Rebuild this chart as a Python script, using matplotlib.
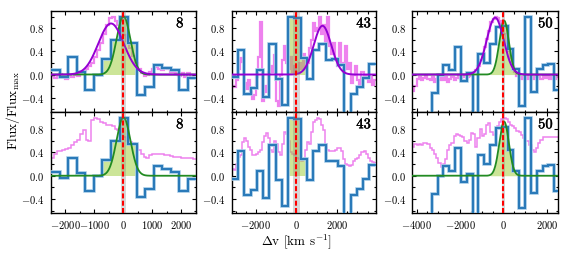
import numpy as np
import matplotlib
matplotlib.use("Agg")
import matplotlib.pyplot as plt
import matplotlib.patheffects as pe
from matplotlib.ticker import MultipleLocator

plt.rcParams.update({
    "font.family": "serif",
    "font.serif": ["cmr10"],
    "mathtext.fontset": "cm",
    "axes.formatter.use_mathtext": True,
    "xtick.direction": "in",
    "ytick.direction": "in",
    "xtick.top": True,
    "ytick.right": True,
    "xtick.labelsize": 7.6,
    "ytick.labelsize": 7.6,
    "axes.linewidth": 1.0,
})

# --- data -----------------------------------------------------------------
panel_ids = ["8", "43", "50"]
xlims = [(-2500, 2500), (-3190, 3900), (-4200, 2500)]
xmajor = [1000, 2000, 2000]
band_half = [80, 160, 70]

# binned spectra (blue): first edge, bin width, values
blue_start = [-2485, -3183, -4376]
blue_width = [295, 308, 268.8]
blue_8 = [0.07, -0.04, 0.30, 0.05, -0.27, 0.0, 0.27, 0.60, 1.0, 0.55,
          -0.36, -0.22, 0.16, 0.11, 0.07, -0.26, -0.06]
blue_43 = [-0.05, 0.43, -0.33, -0.24, 0.08, -0.38, 0.52, -0.07, -0.52, 1.0,
           0.98, 0.29, -0.08, 0.43, 0.52, 0.25, 0.26, 0.16, -0.9, -0.33,
           -0.22, -0.06, 0.19]
blue_50 = [-0.9, -0.9, -0.9, -0.9, -0.31, 0.0, 0.17, 0.08, 0.47, -0.11,
           0.03, -0.9, 0.36, 0.20, 0.53, 0.82, 0.83, 0.44, 0.09, -0.55,
           1.0, -0.30, 0.09, 0.17, 0.18, -0.26]
# bins shaded green (index range)
fill_bins = [(6, 10), (9, 12), None]

# high-res spectra (violet), 100 km/s pixels
mag_start = [-2500, -3200, -4200]
mag_step = 100
mag_top_8 = [-0.02, -0.06, -0.03, 0.01, -0.05, -0.08, -0.02, -0.05, 0.0, -0.03,
             0.03, 0.06, 0.10, 0.14, 0.20, 0.30, 0.42, 0.55, 0.70, 0.85,
             0.97, 0.99, 0.92, 0.85, 0.75, 0.68, 0.58, 0.45, 0.32, 0.20,
             0.10, 0.03, -0.02, 0.00, 0.04, 0.10, 0.13, 0.10, 0.08, 0.12,
             0.09, 0.05, 0.07, 0.02, -0.03, 0.02, -0.05, 0.03, -0.06, 0.00]
mag_bot_8 = [0.30, 0.38, 0.42, 0.42, 0.45, 0.46, 0.48, 0.52, 0.58, 0.62,
             0.72, 0.78, 0.62, 0.60, 0.96, 1.00, 0.98, 0.92, 0.90, 0.88,
             0.88, 0.85, 0.80, 0.78, 0.72, 0.66, 0.60, 0.58, 0.56, 0.52,
             0.45, 0.38, 0.32, 0.30, 0.36, 0.37, 0.38, 0.37, 0.37, 0.36,
             0.35, 0.34, 0.33, 0.33, 0.32, 0.31, 0.31, 0.30, 0.30, 0.29]
mag_top_43 = [-0.20, -0.22, -0.10, 0.10, 0.28, 0.22, -0.15, -0.25, -0.10, -0.30,
              -0.42, -0.35, -0.05, 0.30, 0.90, -0.45, -0.20, -0.30, 0.05, 0.15,
              0.05, 0.34, -0.45, -0.55, 0.00, 0.25, 0.50, 0.20, 0.10, 0.30,
              0.05, 0.15, 0.05, 0.20, 0.10, 0.35, 0.10, 0.20, 0.45, 0.60,
              0.88, 0.75, 0.80, 1.00, 0.70, 0.85, 0.55, 1.00, 0.50, 0.35,
              0.55, 0.25, 0.15, 0.55, 0.20, 0.05, 0.50, 0.10, 0.20, -0.15,
              0.00, 0.15, -0.10, -0.20, 0.05, -0.05, 0.00, -0.12, -0.05, -0.18,
              -0.10]
mag_bot_43 = [0.12, 0.10, 0.20, 0.33, 0.36, 0.58, 0.64, 0.60, 0.50, 0.45,
              0.36, 0.35, 0.38, 0.40, 0.45, 0.58, 0.68, 0.73, 0.65, 0.44,
              0.40, 0.60, 0.55, 0.40, 0.35, 0.55, 0.75, 0.72, 0.60, 0.40,
              0.38, 0.35, 0.30, 0.28, 0.26, 0.28, 0.45, 0.58, 0.55, 0.75,
              0.92, 0.96, 1.00, 0.98, 0.88, 0.78, 0.55, 0.45, 0.42, 0.43,
              0.42, 0.45, 0.48, 0.47, 0.42, 0.28, 0.20, 0.18, 0.16, 0.18,
              0.25, 0.28, 0.30, 0.35, 0.40, 0.42, 0.38, 0.30, 0.25, 0.23,
              0.22]
mag_top_50 = [-0.28, -0.20, -0.08, -0.05, -0.10, -0.06, -0.03, -0.08, -0.10, -0.05,
              -0.12, -0.08, -0.10, -0.06, -0.10, -0.05, -0.12, -0.07, -0.04, -0.10,
              -0.06, -0.02, -0.08, -0.04, 0.00, -0.05, -0.02, 0.02, 0.05, 0.08,
              0.14, 0.25, 0.33, 0.48, 0.62, 0.75, 0.90, 0.96, 1.00, 0.98,
              0.92, 0.82, 0.70, 0.55, 0.40, 0.28, 0.15, 0.05, -0.02, -0.04,
              -0.08, -0.05, -0.02, -0.07, -0.03, -0.08, -0.04, 0.00, -0.05, -0.08,
              -0.03, -0.06, -0.02, -0.07, -0.04, -0.08, -0.05]
mag_bot_50 = [0.50, 0.55, 0.52, 0.55, 0.53, 0.56, 0.57, 0.55, 0.47, 0.44,
              0.38, 0.30, 0.22, 0.15, 0.20, 0.28, 0.45, 0.53, 0.56, 0.68,
              0.72, 0.70, 0.68, 0.66, 0.60, 0.57, 0.62, 0.74, 0.72, 0.50,
              0.65, 0.80, 0.68, 0.72, 0.88, 0.90, 0.75, 0.70, 0.72, 0.86,
              0.92, 0.98, 1.00, 0.98, 0.92, 0.88, 0.86, 0.82, 0.77, 0.75,
              0.70, 0.64, 0.60, 0.60, 0.52, 0.45, 0.40, 0.48, 0.56, 0.62,
              0.66, 0.67, 0.67, 0.67, 0.66, 0.67, 0.67]

# gaussian fits: (amplitude, centre, sigma); None = not drawn
green_fit = [(1.0, 10, 240), None, (0.93, 30, 220)]
purple_fit = [(0.88, -420, 440), (0.84, 1280, 430), (0.98, -380, 390)]

blue_vals = [blue_8, blue_43, blue_50]
mag_top = [mag_top_8, mag_top_43, mag_top_50]
mag_bot = [mag_bot_8, mag_bot_43, mag_bot_50]

VIOLET = "violet"
BLUE = "#2a7ab9"
GREEN = "forestgreen"
PURPLE = "darkviolet"
FILLC = "yellowgreen"


def gauss(v, p):
    a, mu, s = p
    return a * np.exp(-0.5 * ((v - mu) / s) ** 2)


W, H = 568, 257
fig = plt.figure(figsize=(W / 100, H / 100), dpi=100)
col_x = [50.7, 231.7, 412.3]
col_w = [145.0, 144.0, 145.4]
row_y = [10.7, 111.7]
row_h = [101.0, 101.3]

vv = np.linspace(-5000, 5000, 2000)

for c in range(3):
    edges = blue_start[c] + blue_width[c] * np.arange(len(blue_vals[c]) + 1)
    vals = np.array(blue_vals[c])
    for r in range(2):
        ax = fig.add_axes([col_x[c] / W, 1 - (row_y[r] + row_h[r]) / H,
                           col_w[c] / W, row_h[r] / H])
        spec = mag_top[c] if r == 0 else mag_bot[c]
        medges = mag_start[c] + mag_step * np.arange(len(spec) + 1)
        ax.stairs(spec, medges, baseline=None, color=VIOLET,
                  lw=1.6 if r == 0 else 1.1, zorder=1)

        # shaded line region
        if fill_bins[c] is not None:
            i0, i1 = fill_bins[c]
            ax.stairs(vals[i0:i1], edges[i0:i1 + 1], baseline=0, fill=True,
                      color=FILLC, alpha=0.5, lw=0, zorder=2)
        else:
            xf = np.linspace(-600, 650, 300)
            ax.fill_between(xf, 0, gauss(xf, green_fit[c]), color=FILLC,
                            alpha=0.5, lw=0, zorder=2)

        ax.stairs(vals, edges, baseline=None, color="#a6cbe8", lw=2.6, zorder=3)
        ax.stairs(vals, edges, baseline=None, color=BLUE, lw=1.5, zorder=3.1)

        if green_fit[c] is not None:
            ax.plot(vv, gauss(vv, green_fit[c]), color=GREEN, lw=1.3, zorder=4)
        if r == 0:
            ax.plot(vv, gauss(vv, purple_fit[c]), color=PURPLE, lw=1.4, zorder=4.5)

        ax.axvspan(-band_half[c], band_half[c], color="gray", alpha=0.3,
                   lw=0, zorder=5)
        ax.axvline(0, color="red", lw=1.5, dashes=(2.4, 1.1), zorder=6)

        ax.set_xlim(*xlims[c])
        ax.set_ylim(-0.64, 1.1)
        ax.xaxis.set_major_locator(MultipleLocator(xmajor[c]))
        ax.xaxis.set_minor_locator(MultipleLocator(500))
        ax.yaxis.set_major_locator(MultipleLocator(0.4))
        ax.yaxis.set_minor_locator(MultipleLocator(0.2))
        ax.tick_params(which="both", direction="in", top=True, right=True,
                       width=0.8)
        ax.tick_params(which="major", length=3, pad=4.5)
        ax.tick_params(which="minor", length=1.8)
        if r == 0:
            ax.tick_params(labelbottom=False)
        ax.text(0.865, 0.955, r"$\mathbf{%s}$" % panel_ids[c],
                transform=ax.transAxes, ha="left", va="top", fontsize=10.5,
                zorder=7,
                path_effects=[pe.withStroke(linewidth=0.3, foreground="black")])

fig.text(13 / W, 0.57, r"Flux/Flux$_{\rm max}$", rotation=90,
         ha="center", va="center", fontsize=9.5)
fig.text(296 / W, 1 - 241.5 / H, r"$\Delta$v [km s$^{-1}$]",
         ha="center", va="center", fontsize=9.5)

fig.savefig("out.png", dpi=100)
